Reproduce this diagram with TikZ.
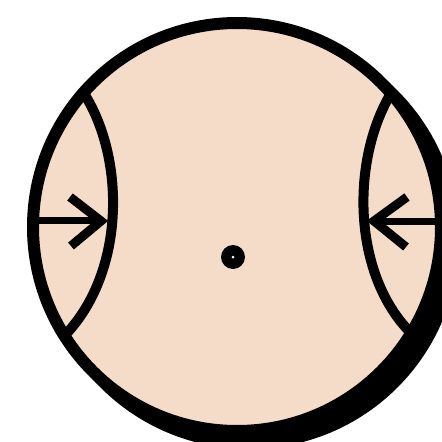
\documentclass[tikz,border=0pt]{standalone}
\definecolor{skin}{RGB}{245,220,201}
\begin{document}
\begin{tikzpicture}[x=1pt,y=-1pt,
  rim/.style={draw=black,line width=12pt,fill=skin},
  curve/.style={draw=black,line width=10pt,line cap=butt},
  bar/.style={draw=black,line width=7pt,line cap=butt},
  chev/.style={draw=black,line width=9pt,line cap=butt,line join=miter}]
\clip (0,0) rectangle (442,442);
\coordinate (c) at (237,227);
\coordinate (sh) at (249,239);
% shadow
\fill[black] (sh) circle[radius=210];
% main disc
\fill[skin] (c) circle[radius=204];
% side arcs
\coordinate (lt) at (85,95);
\coordinate (lb) at (67,333);
\coordinate (rt) at (390,95);
\coordinate (rb) at (408,330);
\draw[curve] (lt) .. controls (125,160) and (125,270) .. (lb);
\draw[curve] (rt) .. controls (352,160) and (352,270) .. (rb);
% left arrow
\coordinate (la) at (34,220);
\coordinate (lp) at (100,220);
\draw[bar] (la) -- (lp);
\draw[chev] (70,197) -- (101,221) -- (71,246);
% right arrow
\coordinate (ra) at (440,221);
\coordinate (rp) at (375,221);
\draw[bar] (ra) -- (rp);
\draw[chev] (407,197) -- (374,221) -- (406,247);
% rim
\draw[draw=black,line width=12pt] (c) circle[radius=204];
% centre dot
\fill[black] (233,257) circle[radius=12];
\fill[white] (233,257) circle[radius=1.5];
\end{tikzpicture}
\end{document}
